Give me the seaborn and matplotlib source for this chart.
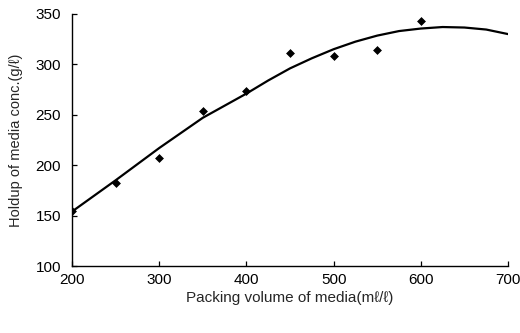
import matplotlib
matplotlib.use("Agg")
import matplotlib.pyplot as plt
import seaborn as sns
import pandas as pd

# measured points
packing = [200, 250, 300, 350, 400, 450, 500, 550, 600]
holdup = [155, 182, 207, 254, 274, 311, 308, 314, 343]

# smooth fitted curve
curve_x = [200, 250, 300, 350, 400, 425, 450, 475, 500, 525, 550, 575,
           600, 625, 650, 675, 700]
curve_y = [154, 185, 217, 247, 271, 284, 296, 306, 315, 322.5, 328.5, 333,
           335.5, 337, 336.5, 334.5, 330]

x_ticks = [200, 300, 400, 500, 600, 700]
y_ticks = [100, 150, 200, 250, 300, 350]

sns.set_style("ticks")
plt.rcParams['font.family'] = ['Liberation Sans', 'DejaVu Sans']

fig = plt.figure(figsize=(5.2, 3.33), dpi=100)
ax = fig.add_axes([0.1385, 0.2012, 0.8385, 0.757])

pts = pd.DataFrame({"x": packing, "y": holdup})
crv = pd.DataFrame({"x": curve_x, "y": curve_y})

sns.lineplot(data=crv, x="x", y="y", ax=ax, color="black", linewidth=1.6)
sns.scatterplot(data=pts, x="x", y="y", ax=ax, color="black", marker="D",
                s=16, edgecolor="black", linewidth=0.5, zorder=3)

ax.set_xlim(200, 700)
ax.set_ylim(100, 350)
ax.set_xticks(x_ticks)
ax.set_yticks(y_ticks)
ax.tick_params(direction="in", length=3.5, width=0.9, labelsize=11, colors="black")
ax.tick_params(axis="x", pad=5)
ax.tick_params(axis="y", pad=8)
for s in ["top", "right"]:
    ax.spines[s].set_visible(False)
for s in ["left", "bottom"]:
    ax.spines[s].set_linewidth(1.0)
    ax.spines[s].set_color("black")

ax.set_xlabel("Packing volume of media(mℓ/ℓ)", fontsize=11, labelpad=3)
ax.set_ylabel("Holdup of media conc.(g/ℓ)", fontsize=10.5, labelpad=9)

fig.savefig("out.png", dpi=100)
